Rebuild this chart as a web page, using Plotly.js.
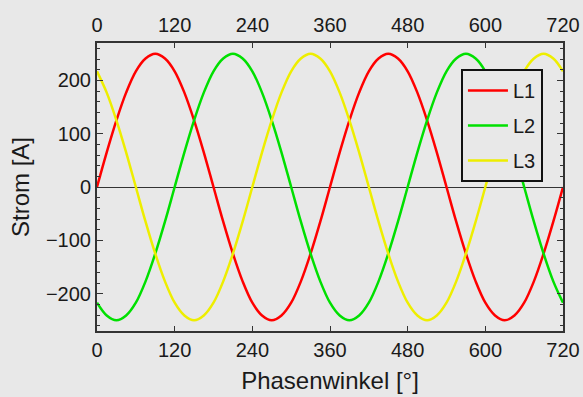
<!DOCTYPE html>
<html><head><meta charset="utf-8">
<script src="https://cdn.plot.ly/plotly-3.0.1.min.js"></script>
<style>html,body{margin:0;padding:0;background:#e8e8e8;}</style>
</head><body>
<div id="chart" style="width:583px;height:397px;"></div>
<script>
const phase = [0,15,30,45,60,75,90,105,120,135,150,165,180,195,210,225,240,255,270,285,300,315,330,345,360,375,390,405,420,435,450,465,480,495,510,525,540,555,570,585,600,615,630,645,660,675,690,705,720];
const L1 = [0,65,125,177,217,241,250,241,217,177,125,65,0,-65,-125,-177,-217,-241,-250,-241,-217,-177,-125,-65,0,65,125,177,217,241,250,241,217,177,125,65,0,-65,-125,-177,-217,-241,-250,-241,-217,-177,-125,-65,0];
const L2 = [-217,-241,-250,-241,-217,-177,-125,-65,0,65,125,177,217,241,250,241,217,177,125,65,0,-65,-125,-177,-217,-241,-250,-241,-217,-177,-125,-65,0,65,125,177,217,241,250,241,217,177,125,65,0,-65,-125,-177,-217];
const L3 = [217,177,125,65,0,-65,-125,-177,-217,-241,-250,-241,-217,-177,-125,-65,0,65,125,177,217,241,250,241,217,177,125,65,0,-65,-125,-177,-217,-241,-250,-241,-217,-177,-125,-65,0,65,125,177,217,241,250,241,217];
const names = ['L1','L2','L3'];
const colors = ['#ff0000','#00e000','#eeee00'];
const xTicks = [0,120,240,360,480,600,720];
const yTicks = [-200,-100,0,100,200];

const series = [L1,L2,L3];
const traces = series.map((s,i)=>({
  x: phase, y: s, name: names[i], legendgroup: 'g'+i, type:'scatter', mode:'lines',
  line:{color:colors[i], width:2.5, shape:'spline'}
}));
traces.push({x: phase, y: L1, xaxis:'x2', mode:'lines', showlegend:false, hoverinfo:'skip', opacity:0, line:{width:0}});

const ff = 'Liberation Sans, Arial, sans-serif';
const tc = '#1a1a1a';
const layout = {
  width:583, height:397,
  margin:{l:97, r:20, t:43, b:66},
  paper_bgcolor:'#e8e8e8', plot_bgcolor:'#e8e8e8',
  font:{family:ff, size:20, color:tc},
  showlegend:true,
  legend:{x:0.781, y:0.91, xanchor:'left', yanchor:'top', bgcolor:'#e8e8e8', bordercolor:'#111', borderwidth:2,
    font:{family:ff, size:20, color:tc}, tracegroupgap:6, itemwidth:40},
  xaxis:{range:[0,720], tickvals:xTicks, ticktext:xTicks.map(String), ticks:'inside', ticklen:5, tickwidth:1, tickcolor:'#333',
    showline:true, linecolor:'#333', linewidth:2, mirror:'ticks', showgrid:false, zeroline:false,
    tickfont:{family:ff, size:20, color:tc},
    title:{text:'Phasenwinkel [°]', font:{family:ff, size:24, color:tc}, standoff:12}},
  xaxis2:{range:[0,720], overlaying:'x', side:'top', tickvals:xTicks, ticktext:xTicks.map(String), ticks:'', showline:false, showgrid:false, zeroline:false,
    ticklabelstandoff:6, tickfont:{family:ff, size:20, color:tc}},
  yaxis:{range:[-270,270], tickvals:yTicks, ticktext:yTicks.map(v=>v<0?'\u2212'+Math.abs(v):String(v)), ticks:'inside', ticklen:6, tickwidth:1, tickcolor:'#333',
    minor:{dtick:20, ticks:'inside', ticklen:3, tickcolor:'#333', showgrid:false},
    showline:true, linecolor:'#333', linewidth:2, mirror:'ticks', showgrid:false,
    zeroline:true, zerolinecolor:'#333', zerolinewidth:1,
    tickfont:{family:ff, size:20, color:tc},
    title:{text:'Strom [A]', font:{family:ff, size:24, color:tc}, standoff:10}}
};
Plotly.newPlot('chart', traces, layout, {displayModeBar:false, staticPlot:true});
</script>
</body></html>
